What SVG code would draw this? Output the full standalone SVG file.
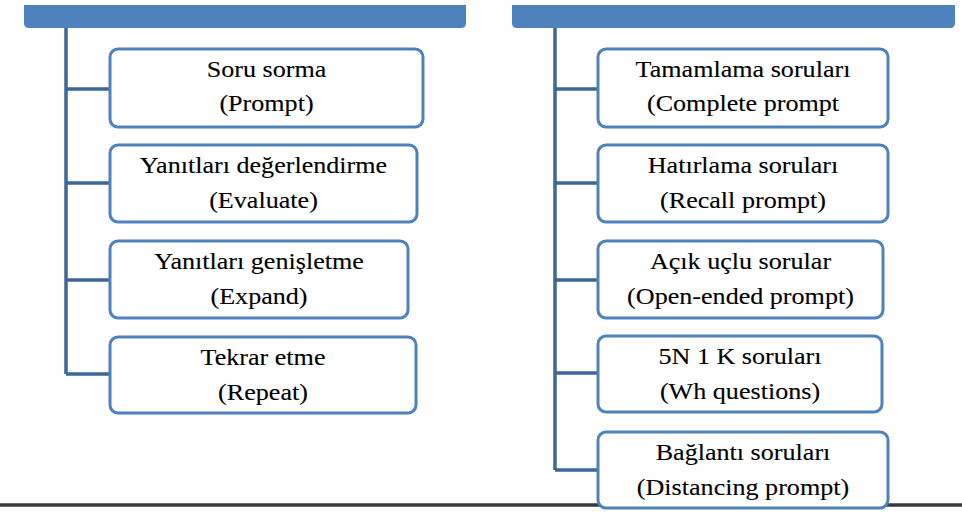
<svg xmlns="http://www.w3.org/2000/svg" width="962" height="512" viewBox="0 0 962 512">
<style>
.hdr{fill:#4f81bd}
.box rect{fill:#ffffff;stroke:#4f81bd;stroke-width:3}
.box text{font-family:"Liberation Serif","Times New Roman",serif;font-size:22.5px;fill:#000;stroke:#000;stroke-width:0.12;text-anchor:middle}
.conn{stroke:#3d6799;stroke-width:3.5;fill:none}
.rule{stroke:#3a3a3a;stroke-width:3.5}
</style>
<rect width="962" height="512" fill="#ffffff"/>
<line class="rule" x1="0" y1="505" x2="962" y2="505"/>
<g id="header-left"><path class="hdr" d="M24 5 H466 V23 Q466 28 461 28 H29 Q24 28 24 23 Z"/></g>
<g id="header-right"><path class="hdr" d="M512 5 H955 V23 Q955 28 950 28 H517 Q512 28 512 23 Z"/></g>
<g id="connectors">
<path class="conn" d="M66 28 V374 M66 89 H110 M66 183 H110 M66 280 H110 M66 374 H110"/>
<path class="conn" d="M555 28 V470 M555 89 H598 M555 183 H598 M555 280 H598 M555 373 H598 M555 470 H598"/>
</g>
<g id="n-prompt" class="box"><rect x="110" y="49" width="313" height="78" rx="8"/>
<text transform="translate(266.5 77) scale(1.16 1)">Soru sorma</text>
<text transform="translate(266.5 111) scale(1.16 1)">(Prompt)</text></g>
<g id="n-evaluate" class="box"><rect x="110" y="145" width="307" height="77" rx="8"/>
<text transform="translate(263.5 173) scale(1.16 1)">Yanıtları değerlendirme</text>
<text transform="translate(263.5 208) scale(1.16 1)">(Evaluate)</text></g>
<g id="n-expand" class="box"><rect x="110" y="241" width="298" height="77" rx="8"/>
<text transform="translate(259 269) scale(1.16 1)">Yanıtları genişletme</text>
<text transform="translate(259 304) scale(1.16 1)">(Expand)</text></g>
<g id="n-repeat" class="box"><rect x="110" y="337" width="306" height="76" rx="8"/>
<text transform="translate(263 365) scale(1.16 1)">Tekrar etme</text>
<text transform="translate(263 400) scale(1.16 1)">(Repeat)</text></g>
<g id="n-complete" class="box"><rect x="598" y="49" width="290" height="78" rx="8"/>
<text transform="translate(743 77) scale(1.16 1)">Tamamlama soruları</text>
<text transform="translate(743 111) scale(1.16 1)">(Complete prompt</text></g>
<g id="n-recall" class="box"><rect x="598" y="145" width="290" height="77" rx="8"/>
<text transform="translate(743 173) scale(1.16 1)">Hatırlama soruları</text>
<text transform="translate(743 208) scale(1.16 1)">(Recall prompt)</text></g>
<g id="n-open" class="box"><rect x="598" y="241" width="285" height="77" rx="8"/>
<text transform="translate(740.5 269) scale(1.16 1)">Açık uçlu sorular</text>
<text transform="translate(740.5 304) scale(1.16 1)">(Open-ended prompt)</text></g>
<g id="n-wh" class="box"><rect x="598" y="336" width="284" height="76" rx="8"/>
<text transform="translate(740 364) scale(1.16 1)">5N 1 K soruları</text>
<text transform="translate(740 399) scale(1.16 1)">(Wh questions)</text></g>
<g id="n-distancing" class="box"><rect x="598" y="432" width="290" height="76" rx="8"/>
<text transform="translate(743 460) scale(1.16 1)">Bağlantı soruları</text>
<text transform="translate(743 495) scale(1.16 1)">(Distancing prompt)</text></g>
</svg>
